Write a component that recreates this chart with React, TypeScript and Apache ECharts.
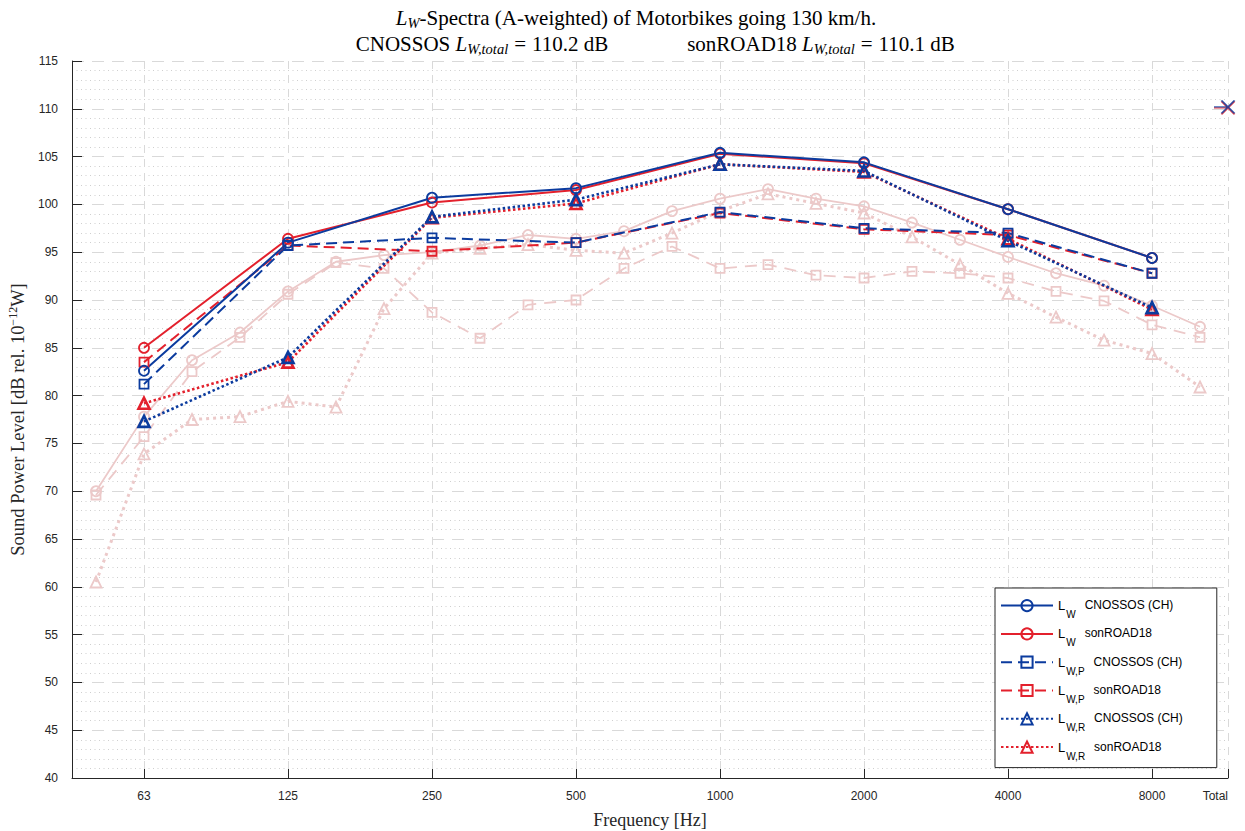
import React, { useEffect, useRef } from 'react';
import * as echarts from 'echarts';

// third-octave bands (x positions are band indices)
const bands = ['50', '63', '80', '100', '125', '160', '200', '250', '315', '400', '500', '630', '800', '1000', '1250', '1600', '2000', '2500', '3150', '4000', '5000', '6300', '8000', '10000'];
const octaves = ['63', '125', '250', '500', '1000', '2000', '4000', '8000'];
const tickLabels = ['63', '125', '250', '500', '1000', '2000', '4000', '8000', 'Total'];
const totalPos = 23.583;

const lwCnossos = [82.6, 96.0, 100.7, 101.7, 105.4, 104.4, 99.5, 94.4];
const lwSonroad = [85.0, 96.4, 100.2, 101.5, 105.3, 104.3, 99.5, 94.4];
const lwpCnossos = [81.2, 95.7, 96.5, 96.0, 99.2, 97.5, 97.0, 92.8];
const lwpSonroad = [83.5, 95.7, 95.1, 96.0, 99.1, 97.4, 96.8, 92.8];
const lwrCnossos = [77.3, 84.0, 98.7, 100.5, 104.2, 103.5, 96.2, 89.2];
const lwrSonroad = [79.2, 83.5, 98.6, 100.1, 104.2, 103.4, 96.4, 89.0];

const refLw = [70.0, 77.8, 83.7, 86.6, 90.9, 94.0, 94.7, 95.0, 95.7, 96.8, 96.4, 97.2, 99.3, 100.6, 101.6, 100.6, 99.8, 98.1, 96.3, 94.5, 92.8, 91.5, 89.4, 87.2];
const refLwP = [69.6, 75.7, 82.5, 86.1, 90.6, 93.9, 93.3, 88.7, 86.0, 89.5, 90.0, 93.3, 95.6, 93.3, 93.7, 92.6, 92.3, 93.0, 92.8, 92.3, 90.9, 89.9, 87.4, 86.1];
const refLwR = [60.5, 73.9, 77.5, 77.8, 79.4, 78.8, 89.1, 94.9, 95.4, 95.8, 95.2, 94.9, 97.0, 99.3, 101.1, 100.1, 99.1, 96.6, 93.7, 90.7, 88.2, 85.8, 84.4, 80.9];

const totalCnossos = 110.2;
const totalSonroad = 110.1;
const totalRef = 110.1;

const BLUE = '#0b3b9e';
const RED = '#e3202c';
const PINK = '#ecc9c9';
const SANS = 'Liberation Sans, Arial, sans-serif';
const SERIF = 'Liberation Serif, Times New Roman, serif';

const names = ['LW|CNOSSOS (CH)', 'LW|sonROAD18', 'LW,P|CNOSSOS (CH)', 'LW,P|sonROAD18', 'LW,R|CNOSSOS (CH)', 'LW,R|sonROAD18'];

const octavePoints = (vals: number[]) => octaves.map((o, i) => [bands.indexOf(o), vals[i]]);
const bandPoints = (vals: number[]) => bands.map((b, i) => [i, vals[i]]);

function mainSeries(name: string, vals: number[], color: string, kind: 'w' | 'p' | 'r') {
  const symbol = kind === 'w' ? 'circle' : kind === 'p' ? 'rect' : 'triangle';
  const size = kind === 'w' ? 10 : kind === 'p' ? 9 : 11;
  return {
    type: 'line',
    name,
    data: octavePoints(vals),
    color,
    symbol,
    symbolSize: size,
    showAllSymbol: true,
    itemStyle: { color: 'rgba(255,255,255,0)', borderColor: color, borderWidth: kind === 'r' ? 2.6 : 1.8 },
    lineStyle: {
      color,
      width: kind === 'r' ? 2.6 : 2,
      type: kind === 'w' ? 'solid' : kind === 'p' ? [11, 6] : [2.5, 2.5],
    },
    emphasis: { disabled: true },
    z: 3,
  };
}

function refSeries(name: string, vals: number[], kind: 'w' | 'p' | 'r') {
  const symbol = kind === 'w' ? 'circle' : kind === 'p' ? 'rect' : 'triangle';
  const size = kind === 'w' ? 10 : kind === 'p' ? 9 : 11;
  return {
    type: 'line',
    name,
    data: bandPoints(vals),
    color: PINK,
    symbol,
    symbolSize: size,
    showAllSymbol: true,
    itemStyle: { color: 'rgba(255,255,255,0)', borderColor: PINK, borderWidth: 1.8 },
    lineStyle: {
      color: PINK,
      width: kind === 'r' ? 3 : 1.8,
      type: kind === 'w' ? 'solid' : kind === 'p' ? [12, 8] : [3, 4],
    },
    emphasis: { disabled: true },
    z: 2,
  };
}

const crossPath = 'path://M-14,0L0,0M-6.5,-6.5L6.5,6.5M6.5,-6.5L-6.5,6.5';

function totalSeries(name: string, v: number, color: string) {
  return {
    type: 'scatter',
    name,
    data: [[totalPos, v]],
    symbol: crossPath,
    symbolSize: [20.5, 13],
    symbolOffset: [-3.75, 0],
    clip: false,
    itemStyle: { color: 'none', borderColor: color, borderWidth: 1.5 },
    emphasis: { disabled: true },
    z: 4,
  };
}

export default function App() {
  const ref = useRef<HTMLDivElement>(null);
  useEffect(() => {
    if (!ref.current) return;
    const chart = echarts.init(ref.current, undefined, { renderer: 'svg' });
    const tickValues = [...octaves.map((o) => bands.indexOf(o)), totalPos];
    const titleRich = {
      n: { fontFamily: SERIF, fontSize: 21, lineHeight: 25, color: '#000' },
      e: { fontFamily: SERIF, fontSize: 21, lineHeight: 25, color: '#000', padding: [0, 6, 0, 6] },
      i: { fontFamily: SERIF, fontSize: 21, lineHeight: 25, fontStyle: 'italic', color: '#000' },
      s: { fontFamily: SERIF, fontSize: 14.5, lineHeight: 13, fontStyle: 'italic', verticalAlign: 'bottom', color: '#000' },
    };
    const option: any = {
      animation: false,
      backgroundColor: '#fff',
      grid: { left: 72, right: 17, top: 61, bottom: 53, outerBoundsMode: 'none', containLabel: false },
      xAxis: {
        type: 'value',
        min: -0.5,
        max: totalPos,
        name: 'Frequency [Hz]',
        nameLocation: 'middle',
        nameGap: 33,
        nameMoveOverlap: false,
        nameTextStyle: { fontFamily: SERIF, fontSize: 18, color: '#262626', verticalAlign: 'top' },
        axisLine: { show: true, onZero: false, lineStyle: { color: '#262626', width: 1 } },
        axisTick: { show: true, inside: true, length: 9, customValues: tickValues, lineStyle: { color: '#262626' } },
        axisLabel: {
          show: true,
          customValues: tickValues,
          margin: 12,
          color: '#262626',
          fontFamily: SANS,
          fontSize: 12,
          alignMaxLabel: 'right',
          formatter: (v: number) => {
            const k = tickValues.findIndex((t) => Math.abs(t - v) < 1e-6);
            return k >= 0 ? tickLabels[k] : '';
          },
        },
        splitLine: { show: true, lineStyle: { color: '#d9d9d9', width: 1, type: [8, 6] } },
        minorTick: { show: false },
        minorSplitLine: { show: false },
      },
      yAxis: {
        type: 'value',
        min: 40,
        max: 115,
        interval: 5,
        name: 'Sound Power Level [dB rel. 10{sup|−12}W]',
        nameLocation: 'middle',
        nameRotate: 90,
        nameGap: 54,
        nameMoveOverlap: false,
        nameTextStyle: {
          fontFamily: SERIF,
          fontSize: 18.5,
          lineHeight: 22,
          color: '#262626',
          verticalAlign: 'middle',
          rich: {
            sup: { fontFamily: SERIF, fontSize: 12, lineHeight: 12, verticalAlign: 'top', color: '#262626' },
          },
        },
        axisLine: { show: true, onZero: false, lineStyle: { color: '#262626', width: 1 } },
        axisTick: { show: true, inside: true, length: 10, lineStyle: { color: '#262626' } },
        axisLabel: { show: true, margin: 14, color: '#262626', fontFamily: SANS, fontSize: 12 },
        splitLine: { show: true, lineStyle: { color: '#d9d9d9', width: 1, type: [12, 8] } },
        minorTick: { show: false, splitNumber: 5 },
        minorSplitLine: { show: true, lineStyle: { color: '#cfcfcf', width: 1, type: [1, 3.5] } },
      },
      legend: {
        show: true,
        orient: 'vertical',
        left: 995,
        top: 588,
        itemWidth: 52,
        itemHeight: 14,
        itemGap: 1.2,
        padding: [11, 34, 0, 5],
        borderColor: '#262626',
        borderWidth: 1,
        borderRadius: 0,
        backgroundColor: '#fff',
        selectedMode: false,
        data: names,
        formatter: (n: string) => {
          const [sub, label] = n.split('|');
          return `{l|L}{s|${sub.slice(1)}}{n|${label}}`;
        },
        textStyle: {
          color: '#000',
          fontFamily: SANS,
          fontSize: 12,
          rich: {
            l: { fontFamily: SANS, fontSize: 13, lineHeight: 13, verticalAlign: 'top', color: '#000' },
            s: { fontFamily: SANS, fontSize: 10, lineHeight: 10, verticalAlign: 'top', color: '#000', padding: [10.5, 0, 0, 1] },
            n: { fontFamily: SANS, fontSize: 12, lineHeight: 12, verticalAlign: 'top', color: '#000', padding: [0, 0, 15, 9] },
          },
        },
      },
      graphic: [
        {
          type: 'text',
          x: 636,
          y: 18,
          style: {
            text: '{i|L}{s|W}{n|-Spectra (A-weighted) of Motorbikes going 130 km/h.}',
            align: 'center',
            verticalAlign: 'middle',
            rich: titleRich,
          },
        },
        {
          type: 'text',
          x: 482,
          y: 44,
          style: {
            text: '{n|CNOSSOS }{i|L}{s|W,total}{e|=}{n|110.2 dB}',
            align: 'center',
            verticalAlign: 'middle',
            rich: titleRich,
          },
        },
        {
          type: 'text',
          x: 821,
          y: 44,
          style: {
            text: '{n|sonROAD18 }{i|L}{s|W,total}{e|=}{n|110.1 dB}',
            align: 'center',
            verticalAlign: 'middle',
            rich: titleRich,
          },
        },
      ],
      series: [
        refSeries('ref LW', refLw, 'w'),
        refSeries('ref LWP', refLwP, 'p'),
        refSeries('ref LWR', refLwR, 'r'),
        mainSeries(names[1], lwSonroad, RED, 'w'),
        mainSeries(names[3], lwpSonroad, RED, 'p'),
        mainSeries(names[5], lwrSonroad, RED, 'r'),
        mainSeries(names[0], lwCnossos, BLUE, 'w'),
        mainSeries(names[2], lwpCnossos, BLUE, 'p'),
        mainSeries(names[4], lwrCnossos, BLUE, 'r'),
        totalSeries('total ref', totalRef, PINK),
        totalSeries('total sonROAD18', totalSonroad, RED),
        totalSeries('total CNOSSOS', totalCnossos, BLUE),
      ],
    };
    chart.setOption(option);
    return () => chart.dispose();
  }, []);
  return <div ref={ref} style={{ position: 'fixed', left: 0, top: 0, width: 1245, height: 831, background: '#fff' }} />;
}
